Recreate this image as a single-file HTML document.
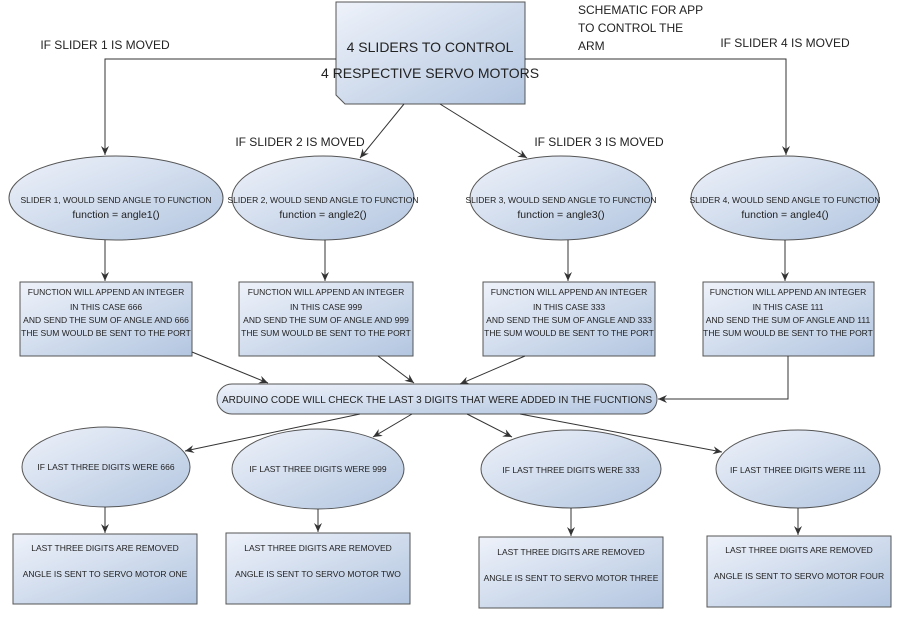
<!DOCTYPE html>
<html><head><meta charset="utf-8"><style>
html,body{margin:0;padding:0;background:#fff;width:901px;height:618px;overflow:hidden}
svg{display:block;font-family:"Liberation Sans",Arial,sans-serif}
</style></head><body>
<svg width="901" height="618" viewBox="0 0 901 618" xmlns="http://www.w3.org/2000/svg">
<defs>
<linearGradient id="g" x1="0" y1="0" x2="1" y2="1">
<stop offset="0" stop-color="#eef2fa"/><stop offset="1" stop-color="#b3c6e0"/></linearGradient>
<marker id="a" markerWidth="10" markerHeight="10" refX="9" refY="5" orient="auto" markerUnits="userSpaceOnUse">
<path d="M0,1 L9,5 L0,9 L3,5 z" fill="#333"/></marker>
</defs>
<g stroke="#555" stroke-width="1" fill="url(#g)">
<path d="M336,2 H525 V104 H345 L336,95 Z"/>
<ellipse cx="116" cy="198" rx="107" ry="42"/>
<ellipse cx="323" cy="198" rx="91" ry="42"/>
<ellipse cx="561" cy="198" rx="91" ry="42"/>
<ellipse cx="785" cy="198" rx="94" ry="42"/>
<rect x="20" y="282" width="172" height="74"/>
<rect x="239" y="282" width="174" height="74"/>
<rect x="483" y="282" width="172" height="74"/>
<rect x="703" y="282" width="171" height="74"/>
<rect x="217" y="384" width="440" height="30" rx="15"/>
<ellipse cx="106" cy="467" rx="84" ry="40"/>
<ellipse cx="318" cy="469" rx="86" ry="40"/>
<ellipse cx="571" cy="469" rx="90" ry="39"/>
<ellipse cx="798" cy="469" rx="82" ry="39"/>
<rect x="13" y="534" width="184" height="70"/>
<rect x="226" y="533" width="184" height="71"/>
<rect x="479" y="537" width="184" height="71"/>
<rect x="707" y="536" width="184" height="71"/>
</g>
<g stroke="#333" stroke-width="1" fill="none" marker-end="url(#a)">
<path d="M336,59 H105 V155"/>
<path d="M525,59 H786 V155"/>
<path d="M404,104 L360,158"/>
<path d="M440,104 L527,158"/>
<path d="M105,240 V281"/>
<path d="M325,240 V281"/>
<path d="M568,240 V281"/>
<path d="M785,240 V281"/>
<path d="M192,352 L268,383"/>
<path d="M378,356 L414,383"/>
<path d="M525,356 L460,384"/>
<path d="M788,356 V399 H658"/>
<path d="M360,414 L185,451"/>
<path d="M412,414 L373,437"/>
<path d="M467,414 L512,437"/>
<path d="M520,414 L722,452"/>
<path d="M105,507 V533"/>
<path d="M318,509 V532"/>
<path d="M571,508 V536"/>
<path d="M798,508 V535"/>
</g>
<g fill="#222" text-anchor="middle">
<text x="430" y="52" font-size="14">4 SLIDERS TO CONTROL</text>
<text x="430" y="78" font-size="14">4 RESPECTIVE SERVO MOTORS</text>
<text x="105" y="49" font-size="12">IF SLIDER 1 IS MOVED</text>
<text x="785" y="47" font-size="12">IF SLIDER 4 IS MOVED</text>
<text x="300" y="146" font-size="12">IF SLIDER 2 IS MOVED</text>
<text x="599" y="146" font-size="12">IF SLIDER 3 IS MOVED</text>
<g text-anchor="start" font-size="12"><text x="578" y="14">SCHEMATIC FOR APP</text><text x="578" y="32">TO CONTROL THE</text><text x="578" y="50">ARM</text></g>
<g font-size="8.5">
<text x="116" y="203">SLIDER 1, WOULD SEND ANGLE TO FUNCTION</text>
<text x="323" y="203">SLIDER 2, WOULD SEND ANGLE TO FUNCTION</text>
<text x="561" y="203">SLIDER 3, WOULD SEND ANGLE TO FUNCTION</text>
<text x="785" y="203">SLIDER 4, WOULD SEND ANGLE TO FUNCTION</text>
</g>
<g font-size="10.5">
<text x="116" y="218">function = angle1()</text>
<text x="323" y="218">function = angle2()</text>
<text x="561" y="218">function = angle3()</text>
<text x="785" y="218">function = angle4()</text>
</g>
<g font-size="8.5">
<text x="106" y="295">FUNCTION WILL APPEND AN INTEGER</text><text x="106" y="310">IN THIS CASE 666</text><text x="106" y="323">AND SEND THE SUM OF ANGLE AND 666</text><text x="106" y="336">THE SUM WOULD BE SENT TO THE PORT</text>
<text x="326" y="295">FUNCTION WILL APPEND AN INTEGER</text><text x="326" y="310">IN THIS CASE 999</text><text x="326" y="323">AND SEND THE SUM OF ANGLE AND 999</text><text x="326" y="336">THE SUM WOULD BE SENT TO THE PORT</text>
<text x="569" y="295">FUNCTION WILL APPEND AN INTEGER</text><text x="569" y="310">IN THIS CASE 333</text><text x="569" y="323">AND SEND THE SUM OF ANGLE AND 333</text><text x="569" y="336">THE SUM WOULD BE SENT TO THE PORT</text>
<text x="788" y="295">FUNCTION WILL APPEND AN INTEGER</text><text x="788" y="310">IN THIS CASE 111</text><text x="788" y="323">AND SEND THE SUM OF ANGLE AND 111</text><text x="788" y="336">THE SUM WOULD BE SENT TO THE PORT</text>
</g>
<text x="437" y="403" font-size="10" textLength="430" lengthAdjust="spacingAndGlyphs">ARDUINO CODE WILL CHECK THE LAST 3 DIGITS THAT WERE ADDED IN THE FUCNTIONS</text>
<g font-size="8.5">
<text x="106" y="470">IF LAST THREE DIGITS WERE 666</text>
<text x="318" y="472">IF LAST THREE DIGITS WERE 999</text>
<text x="571" y="473">IF LAST THREE DIGITS WERE 333</text>
<text x="798" y="473">IF LAST THREE DIGITS WERE 111</text>
<text x="105" y="551">LAST THREE DIGITS ARE REMOVED</text><text x="105" y="577">ANGLE IS SENT TO SERVO MOTOR ONE</text>
<text x="318" y="551">LAST THREE DIGITS ARE REMOVED</text><text x="318" y="577">ANGLE IS SENT TO SERVO MOTOR TWO</text>
<text x="571" y="555">LAST THREE DIGITS ARE REMOVED</text><text x="571" y="581">ANGLE IS SENT TO SERVO MOTOR THREE</text>
<text x="799" y="553">LAST THREE DIGITS ARE REMOVED</text><text x="799" y="579">ANGLE IS SENT TO SERVO MOTOR FOUR</text>
</g>
</g>
</svg>
</body></html>
